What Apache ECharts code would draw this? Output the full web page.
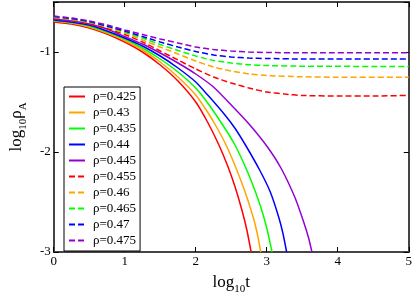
<!DOCTYPE html>
<html><head><meta charset="utf-8">
<script src="https://cdn.jsdelivr.net/npm/echarts@6/dist/echarts.min.js"></script>
<style>html,body{margin:0;padding:0;background:#fff}#c{width:415px;height:300px}</style>
</head><body><div id="c"></div>
<script>
var labels = ['ρ=0.425','ρ=0.43','ρ=0.435','ρ=0.44','ρ=0.445','ρ=0.455','ρ=0.46','ρ=0.465','ρ=0.47','ρ=0.475'];
var xTicks = [0,1,2,3,4,5];
var yTicks = [-3,-2,-1];
var r425 = [[0,-0.70],[0.25,-0.72],[0.5,-0.76],[0.75,-0.82],[1,-0.90],[1.25,-1.00],[1.5,-1.13],[1.75,-1.29],[2,-1.50],[2.166,-1.70],[2.32,-1.92],[2.45,-2.14],[2.55,-2.34],[2.65,-2.58],[2.72,-2.78],[2.78,-3.0]];
var r43 = [[0,-0.69],[0.25,-0.71],[0.5,-0.75],[0.75,-0.81],[1,-0.885],[1.25,-0.98],[1.5,-1.10],[1.75,-1.25],[2,-1.43],[2.166,-1.60],[2.277,-1.73],[2.42,-1.92],[2.55,-2.13],[2.68,-2.37],[2.8,-2.63],[2.865,-2.81],[2.915,-3.0]];
var r435 = [[0,-0.685],[0.25,-0.705],[0.5,-0.74],[0.75,-0.80],[1,-0.87],[1.25,-0.96],[1.5,-1.07],[1.75,-1.20],[2,-1.36],[2.166,-1.508],[2.38,-1.73],[2.545,-1.92],[2.7,-2.15],[2.82,-2.36],[2.92,-2.56],[3.0,-2.76],[3.075,-3.0]];
var r44 = [[0,-0.68],[0.25,-0.70],[0.5,-0.73],[0.75,-0.79],[1,-0.86],[1.25,-0.94],[1.5,-1.04],[1.75,-1.16],[2,-1.30],[2.166,-1.428],[2.4,-1.62],[2.55,-1.76],[2.7,-1.93],[2.9,-2.18],[3.05,-2.40],[3.168,-2.65],[3.23,-2.82],[3.28,-3.0]];
var r445 = [[0,-0.67],[0.25,-0.69],[0.5,-0.72],[0.75,-0.77],[1,-0.845],[1.25,-0.92],[1.5,-1.01],[1.75,-1.11],[2,-1.22],[2.25,-1.35],[2.5,-1.53],[2.75,-1.72],[3.0,-1.94],[3.2,-2.16],[3.4,-2.46],[3.52,-2.70],[3.59,-2.86],[3.636,-3.0]];
var r455 = [[0,-0.66],[0.25,-0.68],[0.5,-0.715],[0.75,-0.765],[1,-0.825],[1.25,-0.90],[1.5,-0.99],[1.75,-1.08],[2,-1.17],[2.25,-1.25],[2.5,-1.31],[2.75,-1.36],[3,-1.40],[3.25,-1.42],[3.5,-1.435],[4,-1.44],[4.5,-1.44],[5,-1.434]];
var r46 = [[0,-0.655],[0.25,-0.675],[0.5,-0.705],[0.75,-0.75],[1,-0.81],[1.25,-0.88],[1.5,-0.95],[1.75,-1.02],[2,-1.09],[2.25,-1.15],[2.5,-1.19],[2.75,-1.22],[3,-1.235],[3.5,-1.248],[4,-1.252],[5,-1.253]];
var r465 = [[0,-0.65],[0.25,-0.67],[0.5,-0.70],[0.75,-0.745],[1,-0.80],[1.25,-0.86],[1.5,-0.925],[1.75,-0.985],[2,-1.04],[2.25,-1.085],[2.5,-1.11],[2.75,-1.127],[3,-1.135],[3.5,-1.142],[5,-1.145]];
var r47 = [[0,-0.645],[0.25,-0.665],[0.5,-0.695],[0.75,-0.74],[1,-0.79],[1.25,-0.845],[1.5,-0.90],[1.75,-0.95],[2,-0.995],[2.25,-1.03],[2.5,-1.05],[2.75,-1.06],[3,-1.065],[3.5,-1.07],[5,-1.07]];
var r475 = [[0,-0.64],[0.25,-0.66],[0.5,-0.69],[0.75,-0.73],[1,-0.78],[1.25,-0.825],[1.5,-0.87],[1.75,-0.91],[2,-0.95],[2.25,-0.975],[2.5,-0.99],[2.75,-1.0],[3,-1.005],[3.5,-1.008],[5,-1.008]];

var allData = [r425,r43,r435,r44,r445,r455,r46,r465,r47,r475];
var colors = ['#ff0000','#ffa500','#00ff00','#0000ff','#9400d3','#ff0000','#ffa500','#00ff00','#0000ff','#9400d3'];
var serif = 'Liberation Serif, Times New Roman, serif';

var series = allData.map(function(d,i){
  return {
    name: labels[i], type:'line', data:d, showSymbol:false, symbol:'none',
    smooth:0.2,
    clip:true, animation:false,
    lineStyle:{color:colors[i], width:1.5, type: i<5 ? 'solid' : [6,3]},
    itemStyle:{color:colors[i]}
  };
});

var axisLine = {show:true, onZero:false, lineStyle:{color:'#444', width:2}};
var chart = echarts.init(document.getElementById('c'));
chart.setOption({
  animation:false,
  grid:{left:38, right:3, top:2, bottom:37, containLabel:false},
  xAxis:[{
    type:'value', min:xTicks[0], max:xTicks[xTicks.length-1], interval:1,
    axisLine:axisLine, splitLine:{show:false},
    axisTick:{inside:true, length:5, lineStyle:{color:'#000', width:1}},
    axisLabel:{color:'#000', fontFamily:serif, fontSize:13, margin:3},
    name:'{a|log}{s|10}{a|t}', nameLocation:'middle', nameGap:17,
    nameTextStyle:{rich:{
      a:{fontFamily:serif, fontSize:17, color:'#000', verticalAlign:'bottom', lineHeight:22},
      s:{fontFamily:serif, fontSize:11, color:'#000', verticalAlign:'bottom', lineHeight:22, padding:[0,0,-4,0]}
    }}
  },{
    type:'value', position:'top', min:0, max:5, interval:1,
    axisLine:axisLine, splitLine:{show:false},
    axisTick:{inside:true, length:5, lineStyle:{color:'#000', width:1}},
    axisLabel:{show:false}
  }],
  yAxis:[{
    type:'value', min:yTicks[0], max:-0.5, interval:1,
    axisLine:axisLine, splitLine:{show:false},
    axisTick:{inside:true, length:5, lineStyle:{color:'#000', width:1}},
    axisLabel:{color:'#000', fontFamily:serif, fontSize:13, margin:3,
      formatter:function(v){return (yTicks.indexOf(v)>=0)? String(v) : '';}},
    name:'{a|log}{s|10}{a|ρ}{s|A}', nameLocation:'middle', nameGap:22, nameRotate:90,
    nameTextStyle:{rich:{
      a:{fontFamily:serif, fontSize:17, color:'#000', verticalAlign:'bottom', lineHeight:22},
      s:{fontFamily:serif, fontSize:11, color:'#000', verticalAlign:'bottom', lineHeight:22, padding:[0,0,-4,0]}
    }}
  },{
    type:'value', position:'right', min:-3, max:-0.5, interval:1,
    axisLine:axisLine, splitLine:{show:false},
    axisTick:{inside:true, length:5, lineStyle:{color:'#000', width:1}},
    axisLabel:{show:false}
  }],
  legend:{
    orient:'vertical', left:64, top:87,
    padding:[3,4,4,4], itemWidth:16, itemHeight:12, itemGap:3,
    borderColor:'#000', borderWidth:1, backgroundColor:'#fff',
    itemStyle:{opacity:0},
    textStyle:{fontFamily:serif, fontSize:13, color:'#000', padding:[0,0,0,3]},
    data:labels
  },
  series:series
});
</script></body></html>
